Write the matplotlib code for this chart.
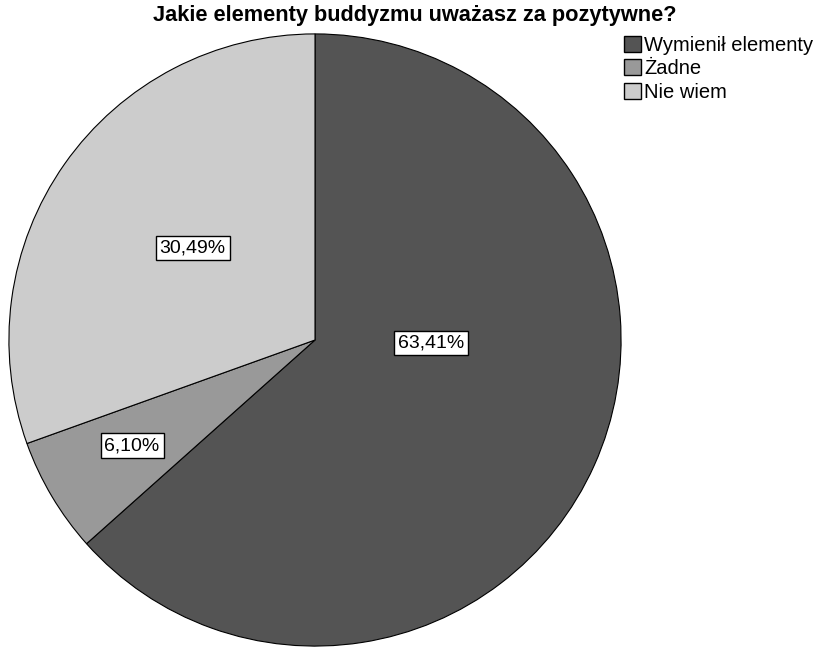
import matplotlib.pyplot as plt
import matplotlib.patches as mpatches
import numpy as np

plt.rcParams['font.family'] = ['Liberation Sans', 'DejaVu Sans']

# answers to the survey question
categories = ['Wymienił elementy', 'Żadne', 'Nie wiem']
percents = [63.41, 6.10, 30.49]
colors = ['#545454', '#999999', '#cccccc']

# where each percentage box sits (radius fraction, angle in degrees)
label_pos = [(0.38, -1.5), (0.69, 210.0), (0.50, 143.0)]

fig = plt.figure(figsize=(8.16, 6.48), dpi=100)
W, H = 816, 648
cx, cy, r = 315, 340, 307
ax = fig.add_axes([(cx - r) / W, (H - cy - r) / H, 2 * r / W, 2 * r / H])

wedges, _ = ax.pie(percents, colors=colors, startangle=90, counterclock=False,
                   radius=1.0, wedgeprops=dict(edgecolor='black', linewidth=0.8))
ax.set_xlim(-1.003, 1.003)
ax.set_ylim(-1.003, 1.003)
ax.set_aspect('equal')
ax.axis('off')

for val, (rad, ang) in zip(percents, label_pos):
    a = np.deg2rad(ang)
    txt = f'{val:.2f}%'.replace('.', ',')
    ax.text(rad * np.cos(a), rad * np.sin(a), txt, ha='center', va='center',
            fontsize=14, bbox=dict(boxstyle='square,pad=0.2', fc='white', ec='black', lw=1))

fig.text(415 / W, 1 - 16 / H, 'Jakie elementy buddyzmu uważasz za pozytywne?',
         ha='center', va='center', fontsize=15.7, fontweight='bold')

handles = [mpatches.Patch(facecolor=c, edgecolor='black', linewidth=1) for c in colors]
fig.legend(handles, categories, loc='upper left', bbox_to_anchor=(624 / W, 1 - 36 / H),
           frameon=False, fontsize=14.5, handlelength=0.85, handleheight=0.85,
           handletextpad=0.15, labelspacing=0.22, borderpad=0, borderaxespad=0)

fig.savefig('out.png', dpi=100)
